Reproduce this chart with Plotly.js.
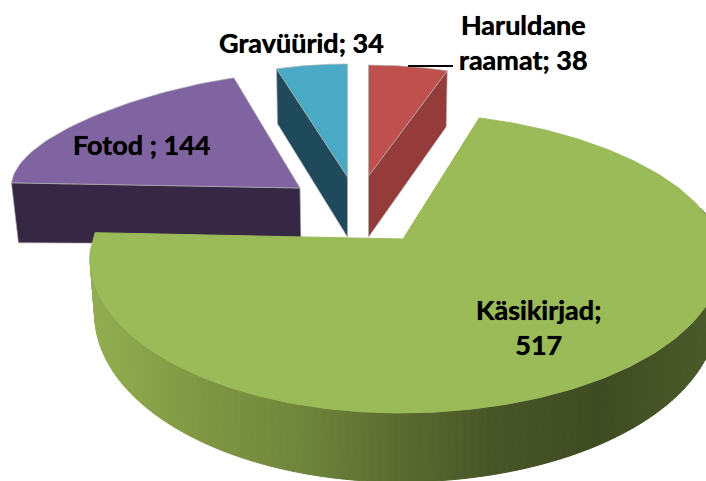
<!DOCTYPE html>
<html>
<head>
<meta charset="utf-8">
<script src="https://cdn.plot.ly/plotly-3.0.1.min.js"></script>
<style>html,body{margin:0;padding:0;background:#fff}#chart{width:706px;height:481px}</style>
</head>
<body>
<div id="chart"></div>
<script>
// Data, clockwise from 12 o'clock
var categories = ["Haruldane raamat", "Käsikirjad", "Fotod", "Gravüürid"];
var values = [38, 517, 144, 34];
var labels = ["Haruldane<br>raamat; 38", "Käsikirjad;<br>517", "Fotod ; 144", "Gravüürid; 34"];

// Styles
var topColors = ["#C0504D", "#9BBB59", "#8064A2", "#4AAAC5"];
var sideColors = ["#953C3A", null, "#362845", "#1F4A5B"];
var edge = "rgba(175,175,175,0.65)";

// Projection of each slice (tilted, exploded view), plotted in a 706x481 axis space
var views = [
  {ax:368.5, ay:176, rxL:246, rxR:246, ryB:111, ryF:111, k:0,    rot:0,   stretch:1},
  {ax:400,   ay:258, rxL:310, rxR:322, ryB:145, ryF:155, k:0.05, rot:-3.7,stretch:1.044},
  {ax:300,   ay:188, rxL:289, rxR:289, ryB:115, ryF:115, k:0.222,rot:0,   stretch:1},
  {ax:347.5, ay:177, rxL:247, rxR:247, ryB:113, ryF:113, k:0,    rot:0,   stretch:1}
];

var total = values.reduce(function(a,b){return a+b;},0);
var spans = [], acc = 0;
values.forEach(function(v){ spans.push([acc/total*360, (acc+v)/total*360]); acc += v; });

function pt(view, deg){
  var r = deg*Math.PI/180, s = Math.sin(r), c = Math.cos(r);
  var f = c>0 ? 1-view.k*c*c : 1;
  var rx = s>=0 ? view.rxR : view.rxL;
  var ry = c>0 ? view.ryB : view.ryF;
  return [view.ax + rx*f*s, view.ay - ry*c];
}
function disp(i, deg){ // display angle of a data angle
  var st = spans[i][0];
  return st + views[i].rot + (deg-st)*views[i].stretch;
}
function arc(i){
  var out = [], n = 40;
  for (var j=0;j<=n;j++){
    out.push(pt(views[i], disp(i, spans[i][0] + (spans[i][1]-spans[i][0])*j/n)));
  }
  return out;
}
function poly(points, color, line, name){
  var xs = points.map(function(p){return p[0];}), ys = points.map(function(p){return p[1];});
  xs.push(xs[0]); ys.push(ys[0]);
  return {type:"scatter", mode:"lines", x:xs, y:ys, fill:"toself", fillcolor:color,
          line:{color:line||color, width:1}, hoverinfo:"skip", name:name||"", showlegend:false};
}
function hex(c){return [parseInt(c.substr(1,2),16),parseInt(c.substr(3,2),16),parseInt(c.substr(5,2),16)];}
var sideStops = [[90,"#92AE50"],[200,"#7F9743"],[300,"#6F853B"],[400,"#5A6B30"],[500,"#465426"],[600,"#3F4B22"],[710,"#4A5A28"]];
function sideColor(x){
  for (var i=0;i<sideStops.length-1;i++){
    if (x<=sideStops[i+1][0]){
      var u=Math.max(0,(x-sideStops[i][0])/(sideStops[i+1][0]-sideStops[i][0]));
      var a=hex(sideStops[i][1]), b=hex(sideStops[i+1][1]);
      return "rgb("+a.map(function(v,j){return Math.round(v+(b[j]-v)*u);}).join(",")+")";
    }
  }
  return sideStops[sideStops.length-1][1];
}

var traces = [];

// Fotod (index 2): front cut face and top
(function(){
  var a = arc(2), left = a[0], top = a[a.length-1], tip = [views[2].ax, views[2].ay];
  traces.push(poly([left, tip, [tip[0]+1,tip[1]+56], [left[0]+7,left[1]+60]], sideColors[2], edge, categories[2]));
  traces.push(poly(a.concat([tip]), topColors[2], edge, categories[2]));
})();
// Gravüürid (index 3)
(function(){
  var a = arc(3), left = a[0], tip = [views[3].ax, views[3].ay];
  traces.push(poly([left, tip, [tip[0],tip[1]+60], [left[0]+1,left[1]+55]], sideColors[3], edge, categories[3]));
  traces.push(poly(a.concat([tip]), topColors[3], edge, categories[3]));
})();
// Haruldane raamat (index 0)
(function(){
  var a = arc(0), right = a[a.length-1], tip = [views[0].ax, views[0].ay];
  traces.push(poly([tip, right, [right[0]-1,right[1]+56], [tip[0],tip[1]+61]], sideColors[0], edge, categories[0]));
  traces.push(poly(a.concat([tip]), topColors[0], edge, categories[0]));
})();
// Käsikirjad (index 1): rim strips then top
(function(){
  var v = views[1];
  function low(deg){
    var p = pt(v, deg), c = Math.cos(deg*Math.PI/180);
    return [v.ax + (p[0]-v.ax)*0.985, p[1] + 56 + 13*Math.abs(Math.min(c,0))];
  }
  for (var d=70; d<272; d+=1.5){
    var p1=pt(v,d), p2=pt(v,d+1.5);
    traces.push(poly([p1,p2,low(d+1.5),low(d)], sideColor((p1[0]+p2[0])/2), null, categories[1]));
  }
  var a = arc(1);
  traces.push(poly(a.concat([[403,239]]), topColors[1], null, categories[1]));
})();

// Leader line for the first label
var leaderX = [408, 453], leaderY = [66, 66];
traces.push({type:"scatter", mode:"lines", x:leaderX, y:leaderY, line:{color:"#000", width:2}, hoverinfo:"skip", showlegend:false});

var labelX = [523, 538, 141, 301], labelY = [42, 327, 144.5, 42.5];
var annotations = labels.map(function(t,i){
  return {x:labelX[i], y:labelY[i], xref:"x", yref:"y", text:"<b>"+t+"</b>", showarrow:false,
          align:"center", xanchor:"center", yanchor:"middle",
          font:{family:"Lato, Carlito, 'Open Sans', sans-serif", size:27, color:"#000", shadow:"0 0 0.7px #000"}};
});

Plotly.newPlot("chart", traces, {
  width:706, height:481, margin:{l:0,r:0,t:0,b:0},
  paper_bgcolor:"#fff", plot_bgcolor:"#fff", showlegend:false,
  xaxis:{range:[0,706], visible:false, fixedrange:true},
  yaxis:{range:[481,0], visible:false, fixedrange:true},
  annotations:annotations
}, {displayModeBar:false, staticPlot:true});
</script>
</body>
</html>
